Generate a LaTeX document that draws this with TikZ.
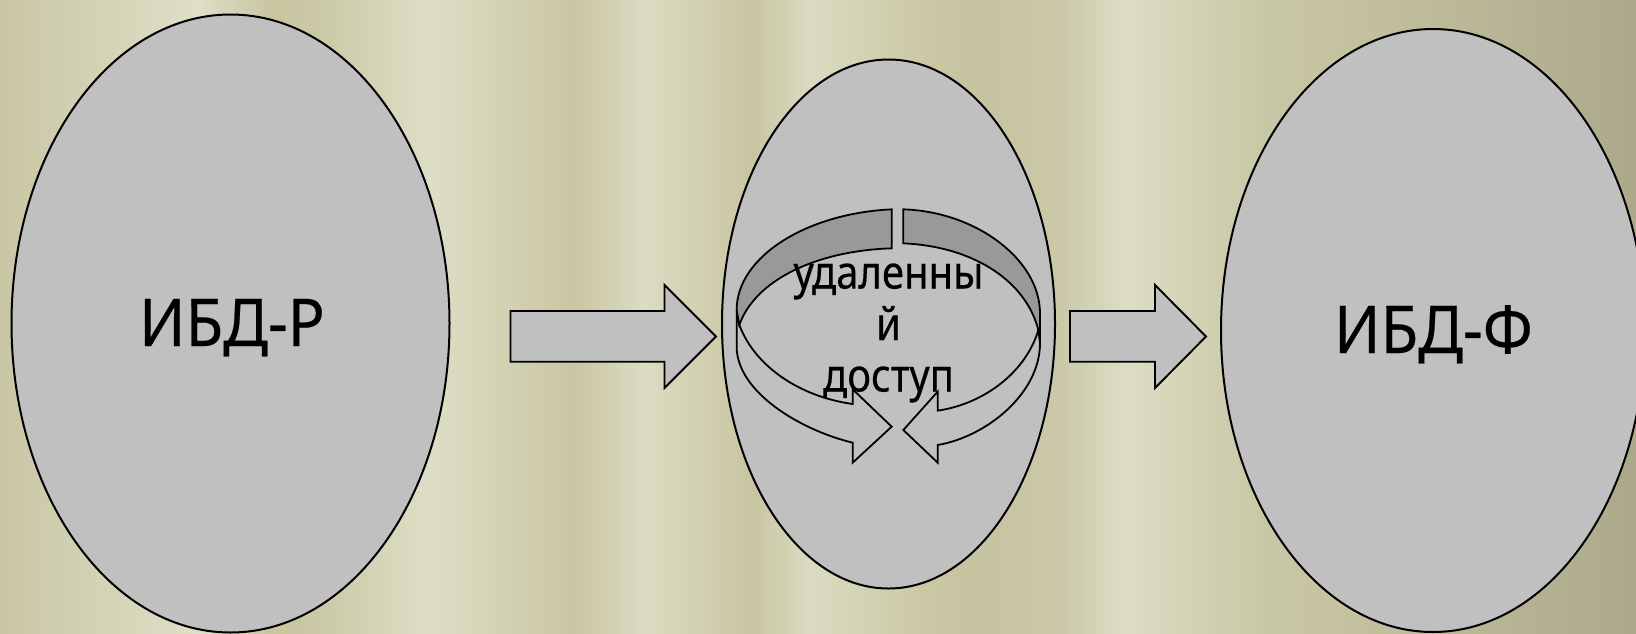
\documentclass[tikz,border=0pt]{standalone}
\usepackage{fontspec}
\setmainfont{Noto Sans}
\newfontfamily\bigface[FakeStretch=0.93,FakeBold=0.35]{Noto Sans}
\newfontfamily\midface[FakeStretch=0.87,FakeBold=0.35]{Noto Sans}
\usetikzlibrary{shapes.geometric}
\definecolor{ca}{HTML}{C9C6A5}\definecolor{cb}{HTML}{DEDFC7}\definecolor{cc}{HTML}{C8C5A0}
\definecolor{cd}{HTML}{CAC8A5}\definecolor{ce}{HTML}{DDDEC6}\definecolor{cf}{HTML}{C9C6A2}
\definecolor{cg}{HTML}{DCDCC3}\definecolor{ch}{HTML}{C8C5A1}\definecolor{ci}{HTML}{DADBC1}
\definecolor{cj}{HTML}{C6C3A0}\definecolor{ck}{HTML}{CAC8A8}\definecolor{cl}{HTML}{DCDDC4}
\definecolor{cm}{HTML}{C8C7A5}\definecolor{cn}{HTML}{C5C2A0}\definecolor{co}{HTML}{B8B596}
\definecolor{cp}{HTML}{ABA98A}
\definecolor{shapegrey}{HTML}{C0C0C0}\definecolor{bandgrey}{HTML}{999999}
\pgfdeclarehorizontalshading{bgbands}{100bp}{
 color(0bp)=(ca); color(25bp)=(ca); color(30.99bp)=(cb); color(33.31bp)=(cc); color(34.60bp)=(cd);
 color(38.11bp)=(ce); color(42.57bp)=(cf); color(44.65bp)=(cg); color(48.01bp)=(ch); color(49.76bp)=(ci);
 color(53.61bp)=(cf); color(54.74bp)=(cj); color(57.40bp)=(ck); color(59.38bp)=(cl); color(63.69bp)=(cm);
 color(65.92bp)=(cn); color(70.72bp)=(co); color(75bp)=(cp); color(100bp)=(cp)}
\tikzset{
 oval/.style={ellipse,draw=black,fill=shapegrey,line width=2pt,inner sep=0pt,outer sep=0pt},
 blockarrow/.style={draw=black,fill=shapegrey,line width=1.9pt,line join=miter},
 ringlight/.style={draw=black,fill=shapegrey,line width=1.8pt,line join=miter},
 ringdark/.style={draw=black,fill=bandgrey,line width=1.8pt,line join=miter},
 bigtext/.style={font=\bigface\fontsize{66}{66}\selectfont,text=black,inner sep=0pt,anchor=base},
 midtext/.style={font=\midface\fontsize{46}{51.5}\selectfont,text=black,inner sep=0pt,align=center}
}
\begin{document}
\begin{tikzpicture}[x=1pt,y=-1pt]
\useasboundingbox (0,0) rectangle (1636,633);
\clip (0,0) rectangle (1636,633);
\shade[shading=bgbands] (0,0) rectangle (1636,633);
\node[oval,minimum width=438pt,minimum height=618pt] (left) at (230.5,323.5) {};
\node[oval,minimum width=333pt,minimum height=529pt] (mid) at (888.5,324) {};
\node[oval,minimum width=424pt,minimum height=603pt] (right) at (1433,330.5) {};
\draw[blockarrow] (510.5,311) -- (664.5,311) -- (664.5,285) -- (716,336.5) -- (664.5,388) -- (664.5,361.7) -- (510.5,361.7) -- cycle;
\draw[blockarrow] (1070,311) -- (1155,311) -- (1155,285) -- (1206,336.5) -- (1155,388) -- (1155,361.7) -- (1070,361.7) -- cycle;
\begin{scope}[xshift=700pt,yshift=-180pt,x=0.33333pt,y=-0.33333pt]
% left ring arrow
\draw[ringlight] (110,390) -- (110,500) .. controls (110,635) and (300,750) .. (458,788) -- (458,848) -- (575,740) -- (458,628) -- (458,672) .. controls (300,650) and (165,560) .. (118,435) -- cycle;
\draw[ringdark] (575,88) .. controls (320,100) and (110,230) .. (110,390) -- (118,435) .. controls (165,300) and (350,212) .. (575,205) -- cycle;
% right ring arrow
\draw[ringlight] (1020,400) -- (1020,490) .. controls (1020,640) and (860,770) .. (713,795) -- (713,848) -- (610,750) -- (713,635) -- (713,692) .. controls (860,670) and (980,570) .. (1015,450) -- cycle;
\draw[ringdark] (610,88) .. controls (830,95) and (1020,240) .. (1020,400) -- (1020,490) -- (1015,450) .. controls (980,310) and (830,200) .. (610,190) -- cycle;
\end{scope}
\node[bigtext] (lefttext) at (232,346) {ИБД-Р};
\node[bigtext] (righttext) at (1433.5,353) {ИБД-Ф};
\node[midtext] (midtext) at (888.5,333) {удаленны\\й\\доступ};
\end{tikzpicture}
\end{document}
